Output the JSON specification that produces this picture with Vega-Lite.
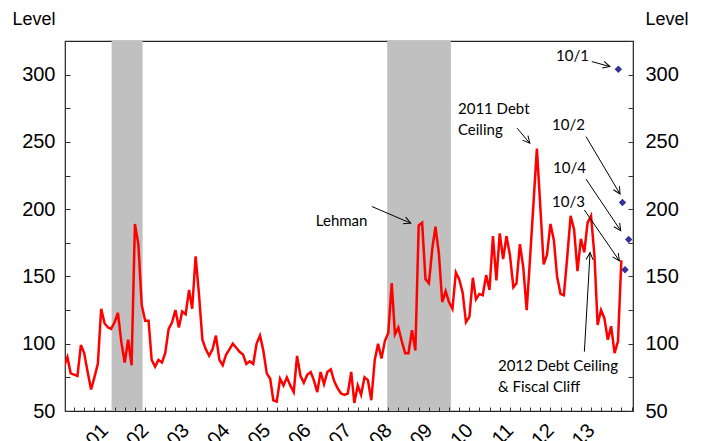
{
  "$schema": "https://vega.github.io/schema/vega-lite/v6.json",
  "width": 568,
  "height": 370,
  "autosize": {"type": "none"},
  "padding": {"left": 65, "top": 41, "right": 72, "bottom": 30},
  "background": "white",
  "config": {
    "view": {"stroke": "#222", "strokeWidth": 1.2},
    "font": "Liberation Sans"
  },
  "datasets": {
    "monthly": [
      {"date":"2000-01-01","value":83},{"date":"2000-02-01","value":90},{"date":"2000-03-01","value":78},{"date":"2000-04-01","value":77},{"date":"2000-05-01","value":76},{"date":"2000-06-01","value":99},{"date":"2000-07-01","value":93},{"date":"2000-08-01","value":79},{"date":"2000-09-01","value":66},{"date":"2000-10-01","value":75},{"date":"2000-11-01","value":85},{"date":"2000-12-01","value":126},
      {"date":"2001-01-01","value":115},{"date":"2001-02-01","value":112},{"date":"2001-03-01","value":111},{"date":"2001-04-01","value":116},{"date":"2001-05-01","value":123},{"date":"2001-06-01","value":101},{"date":"2001-07-01","value":86},{"date":"2001-08-01","value":103},{"date":"2001-09-01","value":84},{"date":"2001-10-01","value":189},{"date":"2001-11-01","value":174},{"date":"2001-12-01","value":129},
      {"date":"2002-01-01","value":117},{"date":"2002-02-01","value":117},{"date":"2002-03-01","value":88},{"date":"2002-04-01","value":83},{"date":"2002-05-01","value":88},{"date":"2002-06-01","value":86},{"date":"2002-07-01","value":93},{"date":"2002-08-01","value":111},{"date":"2002-09-01","value":116},{"date":"2002-10-01","value":125},{"date":"2002-11-01","value":112},{"date":"2002-12-01","value":124},
      {"date":"2003-01-01","value":122},{"date":"2003-02-01","value":140},{"date":"2003-03-01","value":126},{"date":"2003-04-01","value":165},{"date":"2003-05-01","value":137},{"date":"2003-06-01","value":103},{"date":"2003-07-01","value":96},{"date":"2003-08-01","value":91},{"date":"2003-09-01","value":96},{"date":"2003-10-01","value":106},{"date":"2003-11-01","value":88},{"date":"2003-12-01","value":84},
      {"date":"2004-01-01","value":92},{"date":"2004-02-01","value":96},{"date":"2004-03-01","value":100},{"date":"2004-04-01","value":97},{"date":"2004-05-01","value":94},{"date":"2004-06-01","value":92},{"date":"2004-07-01","value":85},{"date":"2004-08-01","value":87},{"date":"2004-09-01","value":85},{"date":"2004-10-01","value":100},{"date":"2004-11-01","value":106},{"date":"2004-12-01","value":95},
      {"date":"2005-01-01","value":78},{"date":"2005-02-01","value":74},{"date":"2005-03-01","value":58},{"date":"2005-04-01","value":57},{"date":"2005-05-01","value":74},{"date":"2005-06-01","value":69},{"date":"2005-07-01","value":75},{"date":"2005-08-01","value":69},{"date":"2005-09-01","value":64},{"date":"2005-10-01","value":91},{"date":"2005-11-01","value":76},{"date":"2005-12-01","value":71},
      {"date":"2006-01-01","value":77},{"date":"2006-02-01","value":79},{"date":"2006-03-01","value":73},{"date":"2006-04-01","value":64},{"date":"2006-05-01","value":79},{"date":"2006-06-01","value":70},{"date":"2006-07-01","value":79},{"date":"2006-08-01","value":81},{"date":"2006-09-01","value":72},{"date":"2006-10-01","value":67},{"date":"2006-11-01","value":63},{"date":"2006-12-01","value":62},
      {"date":"2007-01-01","value":63},{"date":"2007-02-01","value":79},{"date":"2007-03-01","value":56},{"date":"2007-04-01","value":69},{"date":"2007-05-01","value":62},{"date":"2007-06-01","value":75},{"date":"2007-07-01","value":73},{"date":"2007-08-01","value":58},{"date":"2007-09-01","value":88},{"date":"2007-10-01","value":100},{"date":"2007-11-01","value":89},{"date":"2007-12-01","value":102},
      {"date":"2008-01-01","value":108},{"date":"2008-02-01","value":145},{"date":"2008-03-01","value":107},{"date":"2008-04-01","value":112},{"date":"2008-05-01","value":102},{"date":"2008-06-01","value":93},{"date":"2008-07-01","value":93},{"date":"2008-08-01","value":110},{"date":"2008-09-01","value":95},{"date":"2008-10-01","value":188},{"date":"2008-11-01","value":190},{"date":"2008-12-01","value":148},
      {"date":"2009-01-01","value":145},{"date":"2009-02-01","value":171},{"date":"2009-03-01","value":187},{"date":"2009-04-01","value":167},{"date":"2009-05-01","value":131},{"date":"2009-06-01","value":139},{"date":"2009-07-01","value":131},{"date":"2009-08-01","value":126},{"date":"2009-09-01","value":153},{"date":"2009-10-01","value":148},{"date":"2009-11-01","value":138},{"date":"2009-12-01","value":116},
      {"date":"2010-01-01","value":120},{"date":"2010-02-01","value":149},{"date":"2010-03-01","value":133},{"date":"2010-04-01","value":137},{"date":"2010-05-01","value":136},{"date":"2010-06-01","value":151},{"date":"2010-07-01","value":140},{"date":"2010-08-01","value":180},{"date":"2010-09-01","value":147},{"date":"2010-10-01","value":182},{"date":"2010-11-01","value":163},{"date":"2010-12-01","value":180},
      {"date":"2011-01-01","value":166},{"date":"2011-02-01","value":142},{"date":"2011-03-01","value":145},{"date":"2011-04-01","value":174},{"date":"2011-05-01","value":157},{"date":"2011-06-01","value":125},{"date":"2011-07-01","value":163},{"date":"2011-08-01","value":204},{"date":"2011-09-01","value":245},{"date":"2011-10-01","value":203},{"date":"2011-11-01","value":159},{"date":"2011-12-01","value":166},
      {"date":"2012-01-01","value":189},{"date":"2012-02-01","value":177},{"date":"2012-03-01","value":150},{"date":"2012-04-01","value":137},{"date":"2012-05-01","value":136},{"date":"2012-06-01","value":165},{"date":"2012-07-01","value":195},{"date":"2012-08-01","value":185},{"date":"2012-09-01","value":154},{"date":"2012-10-01","value":178},{"date":"2012-11-01","value":168},{"date":"2012-12-01","value":190},
      {"date":"2013-01-01","value":195},{"date":"2013-02-01","value":165},{"date":"2013-03-01","value":114},{"date":"2013-04-01","value":125},{"date":"2013-05-01","value":119},{"date":"2013-06-01","value":103},{"date":"2013-07-01","value":113},{"date":"2013-08-01","value":93},{"date":"2013-09-01","value":102},{"date":"2013-10-01","value":162}
    ],
    "recessions": [
      {"start":"2001-03-05","end":"2001-12-09"},
      {"start":"2007-12-22","end":"2009-07-18"}
    ],
    "daily": [
      {"date":"2013-09-04","value":304,"label":"10/1"},
      {"date":"2013-10-11","value":205,"label":"10/2"},
      {"date":"2013-11-03","value":155,"label":"10/3"},
      {"date":"2013-12-06","value":177.5,"label":"10/4"}
    ],
    "notes": [
      {"label":"Lehman","date":"2006-03-19","value":190.9},
      {"label":"2011 Debt|Ceiling","date":"2009-09-20","value":274.5},
      {"label":"10/1","date":"2012-02-20","value":313.5},
      {"label":"10/2","date":"2012-01-16","value":262.7},
      {"label":"10/4","date":"2012-01-24","value":230.7},
      {"label":"10/3","date":"2012-01-16","value":205.4},
      {"label":"2012 Debt Ceiling|& Fiscal Cliff","date":"2010-09-15","value":83.5}
    ],
    "arrows": [
      {"tx":"2007-08-06","ty":202.0,"hx":"2008-07-21","hy":189.6},
      {"tx":"2011-03-07","ty":260.2,"hx":"2011-06-29","hy":249.0},
      {"tx":"2013-01-08","ty":309.7,"hx":"2013-06-20","hy":306.0},
      {"tx":"2012-11-17","ty":253.9,"hx":"2013-09-19","hy":211.3},
      {"tx":"2012-11-17","ty":222.3,"hx":"2013-09-25","hy":184.1},
      {"tx":"2012-11-02","ty":199.4,"hx":"2013-09-13","hy":161.7},
      {"tx":"2012-11-02","ty":94.1,"hx":"2012-12-23","hy":167.7}
    ]
  },
  "layer": [
    {
      "data": {"name": "recessions"},
      "mark": {"type": "rect", "color": "#c0c0c0"},
      "encoding": {
        "x": {"field": "start", "type": "temporal",
              "scale": {"domain": [{"year":2000,"month":1,"date":10},{"year":2014,"month":1,"date":14}], "nice": false},
              "axis": {"title": null, "orient": "bottom", "ticks": true, "tickSize": 4, "offset": -4, "domain": false, "zindex": 2,
                       "labels": false,
                       "values": [
                         {"year":2000,"month":1,"date":1},{"year":2000,"month":4,"date":1},{"year":2000,"month":7,"date":1},{"year":2000,"month":10,"date":1},
                         {"year":2001,"month":1,"date":1},{"year":2001,"month":4,"date":1},{"year":2001,"month":7,"date":1},{"year":2001,"month":10,"date":1},
                         {"year":2002,"month":1,"date":1},{"year":2002,"month":4,"date":1},{"year":2002,"month":7,"date":1},{"year":2002,"month":10,"date":1},
                         {"year":2003,"month":1,"date":1},{"year":2003,"month":4,"date":1},{"year":2003,"month":7,"date":1},{"year":2003,"month":10,"date":1},
                         {"year":2004,"month":1,"date":1},{"year":2004,"month":4,"date":1},{"year":2004,"month":7,"date":1},{"year":2004,"month":10,"date":1},
                         {"year":2005,"month":1,"date":1},{"year":2005,"month":4,"date":1},{"year":2005,"month":7,"date":1},{"year":2005,"month":10,"date":1},
                         {"year":2006,"month":1,"date":1},{"year":2006,"month":4,"date":1},{"year":2006,"month":7,"date":1},{"year":2006,"month":10,"date":1},
                         {"year":2007,"month":1,"date":1},{"year":2007,"month":4,"date":1},{"year":2007,"month":7,"date":1},{"year":2007,"month":10,"date":1},
                         {"year":2008,"month":1,"date":1},{"year":2008,"month":4,"date":1},{"year":2008,"month":7,"date":1},{"year":2008,"month":10,"date":1},
                         {"year":2009,"month":1,"date":1},{"year":2009,"month":4,"date":1},{"year":2009,"month":7,"date":1},{"year":2009,"month":10,"date":1},
                         {"year":2010,"month":1,"date":1},{"year":2010,"month":4,"date":1},{"year":2010,"month":7,"date":1},{"year":2010,"month":10,"date":1},
                         {"year":2011,"month":1,"date":1},{"year":2011,"month":4,"date":1},{"year":2011,"month":7,"date":1},{"year":2011,"month":10,"date":1},
                         {"year":2012,"month":1,"date":1},{"year":2012,"month":4,"date":1},{"year":2012,"month":7,"date":1},{"year":2012,"month":10,"date":1},
                         {"year":2013,"month":1,"date":1},{"year":2013,"month":4,"date":1},{"year":2013,"month":7,"date":1},{"year":2013,"month":10,"date":1},
                         {"year":2014,"month":1,"date":1}
                       ],
                       "tickColor": "#333", "tickWidth": 1, "grid": false}},
        "x2": {"field": "end"}
      }
    },
    {
      "data": {"name": "monthly"},
      "mark": {"type": "line", "color": "#ff0000", "strokeWidth": 2.5, "clip": true},
      "encoding": {
        "x": {"field": "date", "type": "temporal",
              "scale": {"domain": [{"year":2000,"month":1,"date":10},{"year":2014,"month":1,"date":14}], "nice": false},
              "axis": {"title": null, "orient": "bottom", "ticks": false, "domain": false, "zindex": 2,
                       "values": [
                         {"year":2000,"month":1,"date":1},{"year":2001,"month":1,"date":1},{"year":2002,"month":1,"date":1},{"year":2003,"month":1,"date":1},
                         {"year":2004,"month":1,"date":1},{"year":2005,"month":1,"date":1},{"year":2006,"month":1,"date":1},{"year":2007,"month":1,"date":1},
                         {"year":2008,"month":1,"date":1},{"year":2009,"month":1,"date":1},{"year":2010,"month":1,"date":1},{"year":2011,"month":1,"date":1},
                         {"year":2012,"month":1,"date":1},{"year":2013,"month":1,"date":1}
                       ],
                       "format": "%b-%y",
                       "labelAngle": -45, "labelAlign": "right", "labelBaseline": "middle", "labelPadding": 16,
                       "labelFontSize": 20, "labelOverlap": false, "labelFlush": false, "labelBound": false, "labelColor": "#000",
                       "grid": false}},
        "y": {"field": "value", "type": "quantitative",
              "scale": {"domain": [50, 325], "nice": false, "zero": false},
              "axis": {"orient": "left", "values": [50,75,100,125,150,175,200,225,250,275,300,325],
                       "labelExpr": "datum.value % 50 == 0 ? datum.label : ''",
                       "ticks": true, "tickSize": 5, "offset": -5, "domain": false, "zindex": 2,
                       "labelPadding": 10, "labelFontSize": 20, "labelColor": "#000",
                       "tickColor": "#333", "tickWidth": 1, "grid": false,
                       "title": "Level", "titleAngle": 0, "titleX": -58, "titleY": -17, "titleAlign": "left",
                       "titleBaseline": "alphabetic", "titleFontSize": 18, "titleFontWeight": "normal", "titleColor": "#000"}}
      }
    },
    {
      "data": {"name": "arrows"},
      "mark": {"type": "rule", "color": "#000", "strokeWidth": 1},
      "encoding": {
        "x": {"field": "tx", "type": "temporal", "axis": null,
              "scale": {"domain": [{"year":2000,"month":1,"date":10},{"year":2014,"month":1,"date":14}], "nice": false}},
        "x2": {"field": "hx"},
        "y": {"field": "ty", "type": "quantitative", "axis": null,
              "scale": {"domain": [50, 325], "nice": false, "zero": false}},
        "y2": {"field": "hy"}
      }
    },
    {
      "data": {"name": "arrows"},
      "transform": [
        {"calculate": "atan2((datum.ty - datum.hy) * 370 / 275, (toDate(datum.hx) - toDate(datum.tx)) / 86400000 * 568 / 5118) * 180 / PI", "as": "ang"}
      ],
      "mark": {"type": "point", "shape": "M-1,-0.5L0,0L-1,0.5", "filled": false, "stroke": "#000", "strokeWidth": 1, "size": 196, "opacity": 1},
      "encoding": {
        "x": {"field": "hx", "type": "temporal", "axis": null,
              "scale": {"domain": [{"year":2000,"month":1,"date":10},{"year":2014,"month":1,"date":14}], "nice": false}},
        "y": {"field": "hy", "type": "quantitative", "axis": null,
              "scale": {"domain": [50, 325], "nice": false, "zero": false}},
        "angle": {"field": "ang", "type": "quantitative", "scale": null}
      }
    },
    {
      "data": {"name": "daily"},
      "mark": {"type": "point", "shape": "diamond", "filled": true, "color": "#333399", "size": 55, "opacity": 1},
      "encoding": {
        "x": {"field": "date", "type": "temporal", "axis": null,
              "scale": {"domain": [{"year":2000,"month":1,"date":10},{"year":2014,"month":1,"date":14}], "nice": false}},
        "y": {"field": "value", "type": "quantitative",
              "scale": {"domain": [50, 325], "nice": false, "zero": false},
              "axis": {"orient": "right", "values": [50,75,100,125,150,175,200,225,250,275,300,325],
                       "labelExpr": "datum.value % 50 == 0 ? datum.label : ''",
                       "ticks": true, "tickSize": 5, "offset": -5, "domain": false, "zindex": 2,
                       "labelPadding": 12, "labelFontSize": 20, "labelColor": "#000",
                       "tickColor": "#333", "tickWidth": 1, "grid": false,
                       "title": "Level", "titleAngle": 0, "titleX": 17, "titleY": -17, "titleAlign": "left",
                       "titleBaseline": "alphabetic", "titleFontSize": 18, "titleFontWeight": "normal", "titleColor": "#000"}}
      }
    },
    {
      "data": {"name": "notes"},
      "mark": {"type": "text", "font": "Lato", "fontSize": 15, "color": "#000", "align": "left", "baseline": "middle", "lineBreak": "|", "lineHeight": 21},
      "encoding": {
        "x": {"field": "date", "type": "temporal", "axis": null,
              "scale": {"domain": [{"year":2000,"month":1,"date":10},{"year":2014,"month":1,"date":14}], "nice": false}},
        "y": {"field": "value", "type": "quantitative", "axis": null,
              "scale": {"domain": [50, 325], "nice": false, "zero": false}},
        "text": {"field": "label"}
      }
    }
  ],
  "resolve": {"axis": {"x": "independent", "y": "independent"}}
}
